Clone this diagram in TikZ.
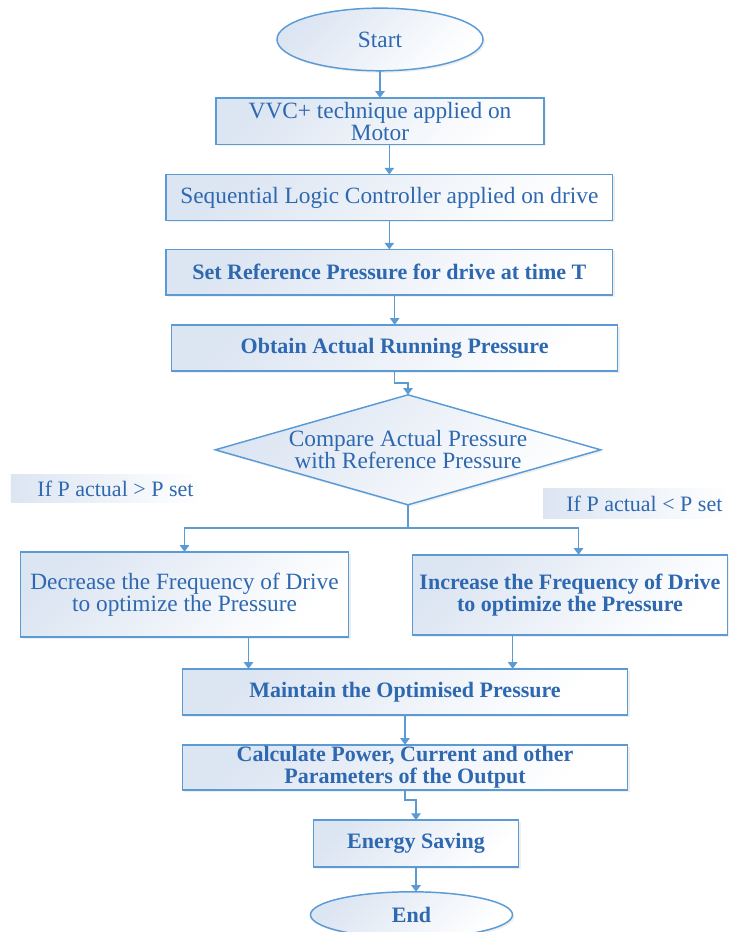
\documentclass[tikz,border=0pt]{standalone}
\usepackage{fontspec}
\setmainfont{Liberation Serif}
\usepackage{xcolor}
\usepackage{tikz}
\usetikzlibrary{shapes.geometric, arrows.meta, positioning, shadows}
\definecolor{flowline}{RGB}{91, 155, 213}
\definecolor{flowtext}{RGB}{46, 104, 176}
\definecolor{flowtint}{RGB}{220, 229, 242}
\newcommand{\flowfont}{\fontsize{17.5}{16.5}\selectfont}
\newcommand{\flowsmall}{\fontsize{16.5}{16.5}\selectfont}

\begin{document}
\begin{tikzpicture}[
  node distance=22.5pt,
  box/.style={rectangle, draw=flowline, line width=1.1pt, top color=flowtint, bottom color=white, shading angle=45, text=flowtext, align=center, font=\flowfont, inner sep=1pt, outer sep=0pt, drop shadow={opacity=0.12, shadow xshift=1.5pt, shadow yshift=-1.5pt}},
  heavy/.style={font=\flowsmall\bfseries},
  term/.style={box, ellipse},
  decision/.style={box, diamond, aspect=3.5, inner sep=0pt, minimum width=289pt, minimum height=82.5pt},
  lbl/.style={rectangle, left color=flowtint, right color=white, text=flowtext, font=\flowsmall, align=flush right, inner xsep=5pt, inner ysep=0pt},
  flow/.style={draw=flowline, line width=1.1pt, -{Triangle[width=7pt, length=5pt]}}
]
  \path[fill=white, use as bounding box] (-285pt, 29.6pt) rectangle (261.75pt, -669.4pt);

  \node[term, minimum width=154.5pt, minimum height=47pt] (start) {Start};
  \node[box, below=20.25pt of start, minimum width=246pt, minimum height=35pt] (vvc) {VVC+ technique applied on\\Motor};
  \node[box, below=of vvc, xshift=7pt, minimum width=335pt, minimum height=34.5pt] (slc) {Sequential Logic Controller applied on drive};
  \node[box, heavy, below=21.75pt of slc, minimum width=335pt, minimum height=34pt] (setref) {Set Reference Pressure for drive at time T};
  \node[box, heavy, below=of setref, xshift=4pt, minimum width=334.5pt, minimum height=34.5pt] (obtain) {Obtain Actual Running Pressure};
  \node[decision, below=18pt of obtain, xshift=10pt] (cmp) {Compare Actual Pressure\\with Reference Pressure};

  \node[box, below=35.25pt of cmp, xshift=-167.6pt, minimum width=246pt, minimum height=64pt] (dec) {Decrease the Frequency of Drive\\to optimize the Pressure};
  \node[box, heavy, below=37.5pt of cmp, xshift=121.5pt, minimum width=236pt, minimum height=60pt] (inc) {Increase the Frequency of Drive\\to optimize the Pressure};
  \node[lbl, above right=36.75pt and -7.5pt of dec.north west, text width=132pt, minimum height=21pt] (gt) {If P actual > P set};
  \node[lbl, above left=27pt and -1.5pt of inc.north east, text width=129.5pt, minimum height=22.5pt] (lt) {If P actual < P set};

  \node[box, heavy, below=123pt of cmp, xshift=-2.25pt, minimum width=334pt, minimum height=34.5pt] (maint) {Maintain the Optimised Pressure};
  \node[box, heavy, below=of maint, minimum width=334pt, minimum height=34pt] (calc) {Calculate Power, Current and other\\Parameters of the Output};
  \node[box, heavy, below=of calc, xshift=8.25pt, minimum width=154pt, minimum height=35pt] (energy) {Energy Saving};
  \node[term, heavy, below=18.75pt of energy, xshift=-3.4pt, minimum width=151.5pt, minimum height=34.5pt] (finish) {End};

  \draw[flow] (start) -- (vvc);
  \draw[flow] (vvc.south -| slc.north) -- (slc.north);
  \draw[flow] (slc) -- (setref);
  \draw[flow] (setref.south -| obtain.north) -- (obtain.north);
  \draw[flow] (obtain.south) -- ++(0, -9pt) -| (cmp.north);
  \draw[flow] (cmp.south) -- ++(0, -17.25pt) -| (dec.north);
  \draw[flow] (cmp.south) -- ++(0, -17.25pt) -| ([xshift=6.4pt]inc.north);
  \draw[flow] ([xshift=48pt]dec.south) -- ([xshift=48pt]dec.south |- maint.north);
  \draw[flow] ([xshift=-43pt]inc.south) -- ([xshift=-43pt]inc.south |- maint.north);
  \draw[flow] (maint) -- (calc);
  \draw[flow] (calc.south) -- ++(0, -7.5pt) -| (energy.north);
  \draw[flow] (energy.south) -- (energy.south |- finish.north);
\end{tikzpicture}
\end{document}
